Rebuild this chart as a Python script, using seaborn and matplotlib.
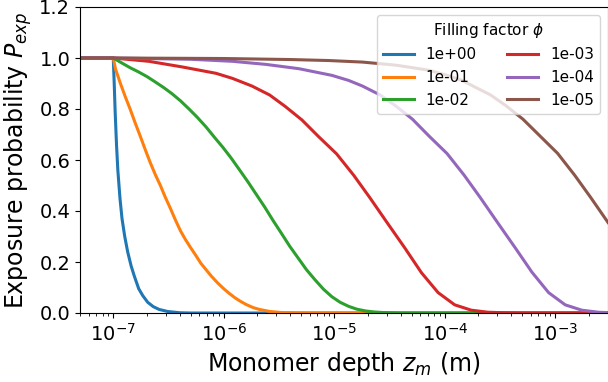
import numpy as np
import pandas as pd
import matplotlib
matplotlib.use("Agg")
import matplotlib.pyplot as plt
import seaborn as sns

labels = ["1e+00", "1e-01", "1e-02", "1e-03", "1e-04", "1e-05"]

z_phi0 = [5e-8, 1e-7, 1.02e-7, 1.04e-7, 1.07e-7, 1.1e-7, 1.15e-7, 1.2e-7, 1.27e-7, 1.35e-7,
          1.45e-7, 1.55e-7, 1.7e-7, 1.85e-7, 2.05e-7, 2.3e-7, 2.6e-7, 3.1e-7, 4e-7, 5e-7, 3e-3]
p_phi0 = [1.0, 1.0, 0.90, 0.79, 0.66, 0.56, 0.45, 0.37, 0.30, 0.24,
          0.185, 0.145, 0.095, 0.068, 0.042, 0.025, 0.014, 0.006, 0.001, 0.0, 0.0]

z_phi1 = [5e-8, 1e-7, 1.05e-7, 1.1e-7, 1.15e-7, 1.28e-7, 1.42e-7, 1.58e-7, 1.75e-7, 1.95e-7,
          2.16e-7, 2.4e-7, 2.67e-7, 2.95e-7, 3.29e-7, 3.65e-7, 4.06e-7, 4.5e-7, 5e-7,
          5.6e-7, 6.2e-7, 7e-7, 7.7e-7, 8.8e-7, 1e-6, 1.12e-6, 1.25e-6, 1.4e-6, 1.6e-6,
          1.85e-6, 2.1e-6, 2.6e-6, 3.3e-6, 5e-6, 3e-3]
p_phi1 = [1.0, 1.0, 0.955, 0.93, 0.905, 0.85, 0.80, 0.745, 0.695, 0.64,
          0.59, 0.543, 0.50, 0.455, 0.41, 0.365, 0.322, 0.288, 0.257,
          0.225, 0.195, 0.167, 0.145, 0.118, 0.095, 0.077, 0.061, 0.047, 0.033,
          0.021, 0.014, 0.006, 0.002, 0.0, 0.0]

z_phi2 = [5e-8, 1e-7, 1.2e-7, 1.42e-7, 1.7e-7, 2.02e-7, 2.4e-7, 2.86e-7, 3.4e-7, 4.06e-7,
          4.85e-7, 5.77e-7, 6.9e-7, 8.2e-7, 9.8e-7, 1.16e-6, 1.38e-6, 1.65e-6, 1.97e-6,
          2.35e-6, 2.8e-6, 3.33e-6, 3.95e-6, 4.72e-6, 5.6e-6, 6.7e-6, 8e-6, 9.5e-6,
          1.13e-5, 1.35e-5, 1.6e-5, 1.92e-5, 2.3e-5, 2.72e-5, 4e-5, 3e-3]
p_phi2 = [1.0, 1.0, 0.98, 0.962, 0.945, 0.927, 0.906, 0.884, 0.86, 0.832,
          0.80, 0.767, 0.73, 0.69, 0.65, 0.609, 0.563, 0.515, 0.465,
          0.415, 0.362, 0.312, 0.262, 0.215, 0.17, 0.13, 0.093, 0.064,
          0.042, 0.026, 0.015, 0.008, 0.004, 0.002, 0.0, 0.0]

z_phi3 = [5e-8, 1e-7, 2.1e-7, 4.2e-7, 8.5e-7, 1.2e-6, 1.8e-6, 2.6e-6, 3.6e-6, 5.1e-6,
          7.2e-6, 1.05e-5, 1.5e-5, 2.1e-5, 3e-5, 4.35e-5, 6.15e-5, 8.7e-5, 1.23e-4,
          1.74e-4, 2.46e-4, 3.5e-4, 5e-4, 3e-3]
p_phi3 = [1.0, 1.0, 0.987, 0.965, 0.94, 0.92, 0.89, 0.855, 0.81, 0.757,
          0.692, 0.624, 0.54, 0.452, 0.355, 0.255, 0.158, 0.08, 0.032,
          0.011, 0.003, 0.001, 0.0, 0.0]

z_phi4 = [5e-8, 1e-7, 5e-7, 1.2e-6, 2.4e-6, 4.8e-6, 9.5e-6, 1.35e-5, 1.8e-5, 2.6e-5,
          3.6e-5, 5.1e-5, 7.2e-5, 1.05e-4, 1.5e-4, 2.1e-4, 3e-4, 4.35e-4, 6.15e-4,
          8.7e-4, 1.23e-3, 1.74e-3, 2.46e-3, 3e-3]
p_phi4 = [1.0, 1.0, 0.995, 0.987, 0.975, 0.958, 0.932, 0.912, 0.89, 0.855,
          0.812, 0.76, 0.694, 0.625, 0.54, 0.452, 0.355, 0.255, 0.16,
          0.08, 0.032, 0.011, 0.003, 0.0015]

z_phi5 = [5e-8, 1e-7, 1e-6, 4e-6, 9e-6, 1.8e-5, 3.6e-5, 7.2e-5, 1.05e-4, 1.44e-4,
          1.8e-4, 2.6e-4, 3.6e-4, 5.1e-4, 7.2e-4, 1.05e-3, 1.5e-3, 2.1e-3, 3e-3]
p_phi5 = [1.0, 1.0, 0.998, 0.994, 0.99, 0.984, 0.972, 0.952, 0.932, 0.912,
          0.89, 0.855, 0.812, 0.76, 0.696, 0.626, 0.54, 0.452, 0.355]

zs = [z_phi0, z_phi1, z_phi2, z_phi3, z_phi4, z_phi5]
ps = [p_phi0, p_phi1, p_phi2, p_phi3, p_phi4, p_phi5]

frames = []
for lab, z, p in zip(labels, zs, ps):
    frames.append(pd.DataFrame({"z": z, "P": p, "phi": lab}))
df = pd.concat(frames, ignore_index=True)

fig = plt.figure(figsize=(6.08, 3.82), dpi=100)
ax = fig.add_axes([80 / 608, (382 - 313) / 382, 528 / 608, 306 / 382])

sns.lineplot(data=df, x="z", y="P", hue="phi", hue_order=labels,
             palette=sns.color_palette("tab10", 6), linewidth=2.2,
             sort=True, estimator=None, ax=ax)

ax.set_xscale("log")
ax.set_xlim(5e-8, 3e-3)
ax.set_ylim(0, 1.2)
ax.set_yticks([0.0, 0.2, 0.4, 0.6, 0.8, 1.0, 1.2])
ax.tick_params(axis="both", which="major", labelsize=14)
ax.set_xlabel("Monomer depth $z_m$ (m)", fontsize=17)
ax.set_ylabel("Exposure probability $P_{exp}$", fontsize=17)

ax.legend(title="Filling factor $\\phi$", ncol=2, loc="upper right",
          fontsize=11, title_fontsize=11, columnspacing=2.0)

fig.savefig("out.png", dpi=100)
